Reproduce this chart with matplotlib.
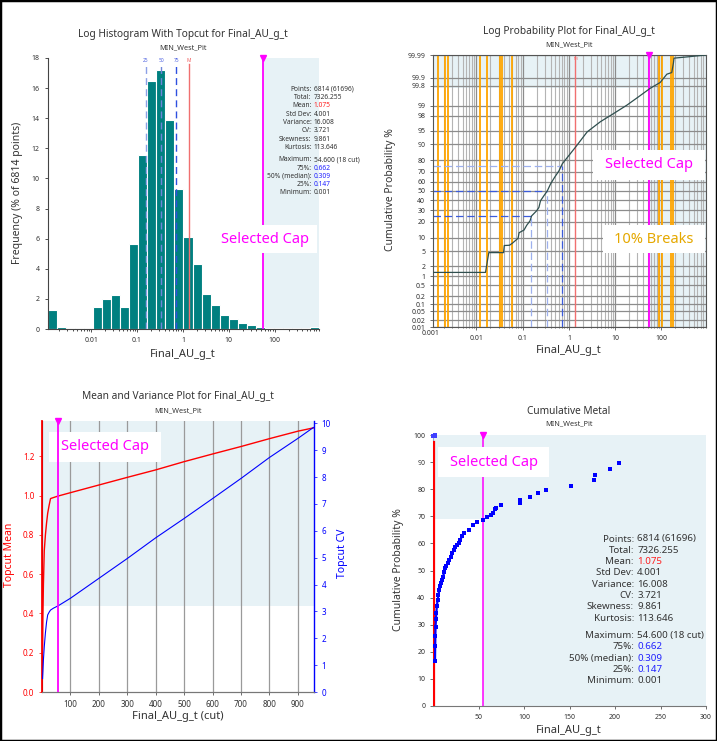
import math
import numpy as np
import matplotlib
matplotlib.use('Agg')
import matplotlib.pyplot as plt
import matplotlib.ticker as mticker
from matplotlib.patches import Rectangle

W, H = 717, 741
plt.rcParams['font.family'] = ['Noto Sans', 'DejaVu Sans']

# ---- data ----
grade_lim = (0.00115, 920)
hist_freq = [1.28, 0.11, 0.04, 0.04, 0.04, 1.46, 2.0, 2.24, 1.48, 5.65,
             11.58, 16.5, 17.18, 13.9, 9.3, 6.09, 4.34, 2.35, 1.57, 0.95,
             0.66, 0.42, 0.29, 0.13, 0.09, 0.09, 0.09, 0.04, 0.04, 0.11]
q25, q50, q75 = 0.155, 0.34, 0.715
mean_line = 1.37
cap = 54.6

stat_names = ['Points', 'Total', 'Mean', 'Std Dev', 'Variance', 'CV', 'Skewness',
              'Kurtosis', 'Maximum', '75%', '50% (median)', '25%', 'Minimum']
stat_values = ['6814 (61696)', '7326.255', '1.075', '4.001', '16.008', '3.721', '9.861',
               '113.646', '54.600 (18 cut)', '0.662', '0.309', '0.147', '0.001']

break_lines = [0.00149, 0.0021, 0.00244, 0.0119, 0.0169, 0.0321, 0.0355, 0.0582,
               89, 103, 161, 182]
prob_x = [0.00115, 0.0157, 0.0185, 0.0386, 0.040, 0.052, 0.060, 0.0795, 0.0836, 0.107,
          0.122, 0.144, 0.156, 0.20, 0.224, 0.243, 0.287, 0.34, 0.40, 0.49,
          0.61, 0.72, 1.39, 2.48, 4.8, 9.3, 18, 32, 57, 94,
          131, 167, 182, 187, 400, 900]
prob_y = [1.3, 1.3, 4.6, 4.6, 6.8, 6.9, 7.7, 9.8, 12.7, 14.3,
          17.4, 20.7, 24.8, 29.4, 32.6, 39.5, 44.8, 50, 57.6, 64.6,
          71, 77.2, 88.5, 94.7, 97.1, 98.3, 99.06, 99.5, 99.75, 99.85,
          99.93, 99.94, 99.977, 99.986, 99.988, 99.99]
prob_ticks = [0.01, 0.02, 0.05, 0.1, 0.2, 0.5, 1, 2, 5, 10, 20, 30, 40, 50,
              60, 70, 80, 90, 95, 98, 99, 99.8, 99.9, 99.99]
cap_prob = 99.75

cut_x = [2, 3, 5, 8, 12, 16, 20, 25, 30, 40, 57, 100, 200, 300, 400, 500, 600, 700, 800, 900, 955]
cut_mean = [0.2, 0.37, 0.55, 0.72, 0.8, 0.86, 0.91, 0.95, 0.985, 0.99, 0.998, 1.015,
            1.054, 1.093, 1.131, 1.173, 1.212, 1.25, 1.29, 1.328, 1.345]
cut_cv = [0.5, 0.7, 1.2, 1.69, 2.2, 2.6, 2.87, 2.97, 3.05, 3.12, 3.21, 3.49,
          4.23, 4.97, 5.74, 6.46, 7.2, 7.95, 8.73, 9.44, 9.85]
cap_cv = 3.2

metal_x = [2.2, 2.4, 2.6, 2.8, 3.3, 3.6, 4.3, 5.1, 6.0, 6.9, 7.8, 8.8, 10, 11, 12.3,
           13.5, 14.8, 16.1, 18, 19.8, 21.2, 22.7, 24.5, 26.4, 28.2, 30, 31.8, 33.7,
           39.2, 44, 48.4, 54.6, 59.4, 63.8, 66, 68.5, 69.6, 74.8, 95.3, 95.3,
           107, 115, 124.6, 151.8, 177.4, 178.2, 194.7, 203.9]
metal_y = [16.5, 22, 26, 29.3, 32, 34.2, 37, 39.1, 41, 42.8, 44.2, 45.3, 46.6, 47.7, 49.3,
           50.8, 51.8, 52.7, 53.9, 55.1, 56.3, 57.6, 58.5, 59.4, 60.3, 61.3, 62.6, 64,
           64.9, 66.8, 67.8, 68.6, 69.6, 70.4, 71.3, 72.6, 73.2, 74.1, 75.0, 76.1,
           77.2, 78.5, 79.7, 81.3, 83.4, 85.2, 87.5, 89.5]
metal_top_x = [0.3, 1.0, 1.8, 2.5]
metal_top_y = [99.6, 99.7, 99.8, 99.9]
cap_metal = 69
mean_metal_top = 97.5

# ---- colours ----
teal = '#008080'
shade = '#E7F2F6'
magenta = '#FF00FF'
orange = '#FFA500'
dark_blue = '#3B5BDB'
light_blue = '#9DB0EE'
txt = '#333333'


def axrect(l, t, r, b):
    return [l / W, 1 - b / H, (r - l) / W, (b - t) / H]


def ftext(x, y, s, **kw):
    fig.text(x / W, 1 - y / H, s, **kw)


def cap_box(ax, l, t, r, b, s, color, z):
    ax.add_artist(Rectangle((l / W, 1 - b / H), (r - l) / W, (b - t) / H,
                            transform=fig.transFigure, fc='white', ec='none', zorder=z))
    ax.text((l + r) / 2 / W, 1 - (t + b) / 2 / H, s, transform=fig.transFigure,
            ha='center', va='center', color=color, fontsize=10.5, zorder=z + 0.1)


def stats_block(colon_x, y0, dy, gap, fs):
    for i, (n, v) in enumerate(zip(stat_names, stat_values)):
        y = y0 + i * dy + (gap if i >= 8 else 0)
        c = txt
        if n == 'Mean':
            c = '#FF2020'
        elif n in ('75%', '50% (median)', '25%'):
            c = '#2020FF'
        ftext(colon_x, y, n + ':', ha='right', va='center', fontsize=fs, color=txt)
        ftext(colon_x + fs * 0.45, y, v, ha='left', va='center', fontsize=fs, color=c)


# normal probability scale
_a = [-3.969683028665376e+01, 2.209460984245205e+02, -2.759285104469687e+02,
      1.383577518672690e+02, -3.066479806614716e+01, 2.506628277459239e+00]
_b = [-5.447609879822406e+01, 1.615858368580409e+02, -1.556989798598866e+02,
      6.680131188771972e+01, -1.328068155288572e+01]
_c = [-7.784894002430293e-03, -3.223964580411365e-01, -2.400758277161838e+00,
      -2.549732539343734e+00, 4.374664141464968e+00, 2.938163982698783e+00]
_d = [7.784695709041462e-03, 3.224671290700398e-01, 2.445134137142996e+00,
      3.754408661907416e+00]


def prob_fwd(p):
    p = np.clip(np.asarray(p, dtype=float) / 100.0, 1e-9, 1 - 1e-9)
    out = np.zeros_like(p)
    plow = 0.02425
    lo = p < plow
    hi = p > 1 - plow
    mid = ~(lo | hi)
    q = np.sqrt(-2 * np.log(np.where(lo, p, 0.5)))
    num = ((((_c[0] * q + _c[1]) * q + _c[2]) * q + _c[3]) * q + _c[4]) * q + _c[5]
    den = (((_d[0] * q + _d[1]) * q + _d[2]) * q + _d[3]) * q + 1
    out = np.where(lo, num / den, out)
    q = np.sqrt(-2 * np.log(np.where(hi, 1 - p, 0.5)))
    num = ((((_c[0] * q + _c[1]) * q + _c[2]) * q + _c[3]) * q + _c[4]) * q + _c[5]
    den = (((_d[0] * q + _d[1]) * q + _d[2]) * q + _d[3]) * q + 1
    out = np.where(hi, -num / den, out)
    q = p - 0.5
    r = q * q
    num = (((((_a[0] * r + _a[1]) * r + _a[2]) * r + _a[3]) * r + _a[4]) * r + _a[5]) * q
    den = ((((_b[0] * r + _b[1]) * r + _b[2]) * r + _b[3]) * r + _b[4]) * r + 1
    out = np.where(mid, num / den, out)
    return out


_erf = np.vectorize(math.erf, otypes=[float])


def prob_inv(z):
    z = np.asarray(z, dtype=float)
    return 50.0 * (1.0 + _erf(z / math.sqrt(2)))


def fmt_num(v):
    return ('%g' % v)


fig = plt.figure(figsize=(W / 100, H / 100), dpi=100)
fig.add_artist(Rectangle((0, 0), 1, 1, transform=fig.transFigure, fill=False,
                         ec='black', lw=2.5))

# ================= 1) log histogram =================
ax1 = fig.add_axes(axrect(48, 58, 319, 329))
edges = np.logspace(np.log10(grade_lim[0]), np.log10(grade_lim[1]), len(hist_freq) + 1)
ax1.bar(edges[:-1], hist_freq, width=np.diff(edges), align='edge', color=teal,
        edgecolor='white', linewidth=0.8, zorder=2)
ax1.set_xscale('log')
ax1.axvspan(cap, grade_lim[1], color=shade, lw=0, zorder=0)
for q, c, lab in [(q25, '#8CA0E6', '25'), (q50, '#6F86D9', '50'), (q75, '#2E50E0', '75')]:
    ax1.plot([q, q], [0, 17.6], color=c, lw=1, ls=(0, (5, 3)), zorder=3)
    ax1.text(q, 17.85, lab, color='#4B5FE0', fontsize=3.5, ha='center', va='center')
ax1.plot([mean_line, mean_line], [0, 17.6], color='#F07070', lw=1, zorder=3)
ax1.text(mean_line, 17.85, 'M', color='#F06060', fontsize=3.5, ha='center', va='center')
ax1.plot([cap, cap], [0, 18], color=magenta, lw=1.3, zorder=3)
ax1.plot([cap], [18], marker='v', color=magenta, ms=5, clip_on=False, zorder=4)
ax1.set_xlim(grade_lim)
ax1.set_ylim(0, 18)
ax1.set_yticks(range(0, 19, 2))
ax1.set_xticks([0.01, 0.1, 1, 10, 100], labels=['0.01', '0.1', '1', '10', '100'])
ax1.xaxis.set_minor_locator(mticker.LogLocator(subs=np.arange(2, 10)))
ax1.xaxis.set_minor_formatter(mticker.NullFormatter())
ax1.tick_params(labelsize=5, colors=txt, length=2.5, width=0.6)
ax1.tick_params(which='minor', length=1.5, width=0.5)
for s in ['top', 'right']:
    ax1.spines[s].set_visible(False)
for s in ['left', 'bottom']:
    ax1.spines[s].set_color('#444444')
    ax1.spines[s].set_linewidth(0.8)
cap_box(ax1, 213, 225, 317, 253, 'Selected Cap', magenta, 5)

ftext(183, 34, 'Log Histogram With Topcut for Final_AU_g_t', ha='center', va='center', fontsize=7.3, color=txt)
ftext(183, 47.5, 'MIN_West_Pit', ha='center', va='center', fontsize=5.3, color=txt)
ftext(183, 354, 'Final_AU_g_t', ha='center', va='center', fontsize=8, color=txt)
ftext(18, 193, 'Frequency (% of 6814 points)', ha='center', va='center', fontsize=7.5,
      rotation=90, color=txt)
stats_block(311.5, 89.3, 8.3, 4.1, 4.8)

# ================= 2) log probability =================
ax2 = fig.add_axes(axrect(433, 55, 706, 327))
ax2.set_xscale('log')
ax2.set_yscale('function', functions=(prob_fwd, prob_inv))
ax2.axvspan(cap, grade_lim[1], color=shade, lw=0, zorder=0)
ax2.fill_between([grade_lim[0], cap], cap_prob, 99.99, color=shade, lw=0, zorder=0)
for b in break_lines:
    ax2.axvline(b, color=orange, lw=1.3, zorder=1.5)
ax2.axvline(mean_line, color='#F07070', lw=1, zorder=2)
ax2.text(mean_line, 99.985, 'M', color='#F07070', fontsize=3, ha='center', va='center')
for q, p, hc, vc in [(q25, 25, dark_blue, light_blue), (q50, 50, dark_blue, light_blue),
                     (q75, 75, light_blue, dark_blue)]:
    ax2.plot([grade_lim[0], q], [p, p], color=hc, lw=0.9, ls=(0, (6, 3)), zorder=2)
    ax2.plot([q, q], [0.01, p], color=vc, lw=0.9, ls=(0, (6, 3)), zorder=2)
ax2.axvline(cap, color=magenta, lw=1.3, zorder=2.5)
ax2.plot([cap], [99.99], marker='v', color=magenta, ms=5, clip_on=False, zorder=4)
ax2.plot(prob_x, prob_y, color='#2F4F4F', lw=0.9, zorder=3)
ax2.set_xlim(grade_lim)
ax2.set_ylim(0.01, 99.99)
ax2.yaxis.set_major_locator(mticker.FixedLocator(prob_ticks))
ax2.yaxis.set_major_formatter(mticker.FixedFormatter([fmt_num(p) for p in prob_ticks]))
ax2.yaxis.set_minor_locator(mticker.NullLocator())
ax2.set_xticks([0.01, 0.1, 1, 10, 100], labels=['0.01', '0.1', '1', '10', '100'])
ax2.xaxis.set_minor_locator(mticker.LogLocator(subs=np.arange(2, 10)))
ax2.xaxis.set_minor_formatter(mticker.NullFormatter())
ax2.text(0.001, -0.012, '0.001', transform=ax2.get_xaxis_transform(), ha='center', va='top',
         fontsize=5, color=txt)
ax2.grid(which='major', color='#8C8C8C', lw=0.9, zorder=1)
ax2.grid(which='minor', axis='x', color='#B4B4B4', lw=0.8, zorder=1)
ax2.set_axisbelow(True)
ax2.tick_params(labelsize=5, colors=txt, length=2, width=0.5)
ax2.tick_params(which='minor', length=1, width=0.4)
for s in ax2.spines.values():
    s.set_color('#555555')
    s.set_linewidth(0.8)
cap_box(ax2, 593, 150, 705, 180, 'Selected Cap', magenta, 5)
cap_box(ax2, 603, 225, 705, 253, '10% Breaks', '#E5A800', 5)

ftext(569, 31.5, 'Log Probability Plot for Final_AU_g_t', ha='center', va='center', fontsize=7.3, color=txt)
ftext(569, 44.5, 'MIN_West_Pit', ha='center', va='center', fontsize=5.3, color=txt)
ftext(569, 350, 'Final_AU_g_t', ha='center', va='center', fontsize=8, color=txt)
ftext(391, 190, 'Cumulative Probability %', ha='center', va='center', fontsize=7.5,
      rotation=90, color=txt)

# ================= 3) mean and variance =================
ax3 = fig.add_axes(axrect(42, 421, 314, 692))
ax3b = ax3.twinx()
ax3.fill_between([0, 957], cap_cv * 1.38 / 10.09, 1.38, color=shade, lw=0, zorder=0)
for g in range(100, 1000, 100):
    ax3.axvline(g, color='#9A9A9A', lw=0.9, zorder=1)
ax3.plot(cut_x, cut_mean, color='#FF0000', lw=1, zorder=3)
ax3b.plot(cut_x, cut_cv, color='#0000FF', lw=0.8, zorder=3)
ax3b.plot([55, 55], [0, 10.09], color=magenta, lw=1.3, zorder=4)
ax3b.plot([55], [10.09], marker='v', color=magenta, ms=5, clip_on=False, zorder=5)
ax3.set_xlim(0, 957)
ax3.set_ylim(0, 1.38)
ax3b.set_ylim(0, 10.09)
ax3.set_xticks(range(100, 1000, 100))
ax3.set_yticks([0, 0.2, 0.4, 0.6, 0.8, 1.0, 1.2])
ax3.yaxis.set_major_formatter(mticker.FormatStrFormatter('%.1f'))
ax3b.set_yticks(range(0, 11))
ax3.tick_params(axis='x', labelsize=5.8, colors=txt, length=2, width=0.5)
ax3.tick_params(axis='y', labelsize=5.8, colors='#FF0000', length=2, width=0.5)
ax3b.tick_params(axis='y', labelsize=5.8, colors='#0000FF', length=2, width=0.5)
ax3.spines['top'].set_visible(False)
ax3b.spines['top'].set_visible(False)
ax3.spines['right'].set_visible(False)
ax3b.spines['left'].set_color('#FF0000')
ax3b.spines['left'].set_linewidth(1.3)
ax3b.spines['right'].set_color('#0000FF')
ax3b.spines['right'].set_linewidth(1.0)
ax3b.spines['bottom'].set_color('#777777')
ax3.spines['bottom'].set_color('#777777')
cap_box(ax3, 49, 432, 161, 462, 'Selected Cap', magenta, 2)

ftext(178, 397, 'Mean and Variance Plot for Final_AU_g_t', ha='center', va='center', fontsize=7.3, color=txt)
ftext(178, 410.5, 'MIN_West_Pit', ha='center', va='center', fontsize=5.3, color=txt)
ftext(178, 716.5, 'Final_AU_g_t (cut)', ha='center', va='center', fontsize=8, color=txt)
ftext(10, 555, 'Topcut Mean', ha='center', va='center', fontsize=7.5, rotation=90, color='#FF0000')
ftext(343, 553, 'Topcut CV', ha='center', va='center', fontsize=7.5, rotation=90, color='#0000FF')

# ================= 4) cumulative metal =================
ax4 = fig.add_axes(axrect(433, 435, 706, 706))
ax4.axvspan(cap, 300, color=shade, lw=0, zorder=0)
ax4.fill_between([0, cap], cap_metal, 100, color=shade, lw=0, zorder=0)
ax4.plot([1.075, 1.075], [0, mean_metal_top], color='#FF0000', lw=1.6, zorder=3)
ax4.plot([cap, cap], [0, 100], color=magenta, lw=1.1, zorder=2)
ax4.plot([cap], [100], marker='v', color=magenta, ms=5, clip_on=False, zorder=5)
ax4.plot(metal_x[:28], metal_y[:28], color='#0000FF', lw=1.6, zorder=4)
ax4.plot(metal_x, metal_y, ls='none', marker='s', ms=2.2, color='#0000FF', mew=0, zorder=4)
ax4.plot(metal_top_x, metal_top_y, ls='none', marker='s', ms=2.2, color='#4040FF', mew=0,
         clip_on=False, zorder=4)
ax4.set_xlim(0, 300)
ax4.set_ylim(0, 100)
ax4.set_xticks(range(50, 301, 50))
ax4.set_yticks(range(0, 101, 10))
ax4.tick_params(labelsize=5, colors=txt, length=2, width=0.5)
ax4.spines['top'].set_visible(False)
ax4.spines['right'].set_visible(False)
ax4.spines['left'].set_color('#99A6CC')
ax4.spines['bottom'].set_color('#777777')
cap_box(ax4, 438, 447, 549, 477, 'Selected Cap', magenta, 5)

ftext(569, 411, 'Cumulative Metal', ha='center', va='center', fontsize=7.3, color=txt)
ftext(569, 424, 'MIN_West_Pit', ha='center', va='center', fontsize=5.3, color=txt)
ftext(569, 730.5, 'Final_AU_g_t', ha='center', va='center', fontsize=8, color=txt)
ftext(398, 570, 'Cumulative Probability %', ha='center', va='center', fontsize=7.5,
      rotation=90, color=txt)
stats_block(634, 539, 11.33, 6, 7)

fig.savefig('out.png', dpi=100)
